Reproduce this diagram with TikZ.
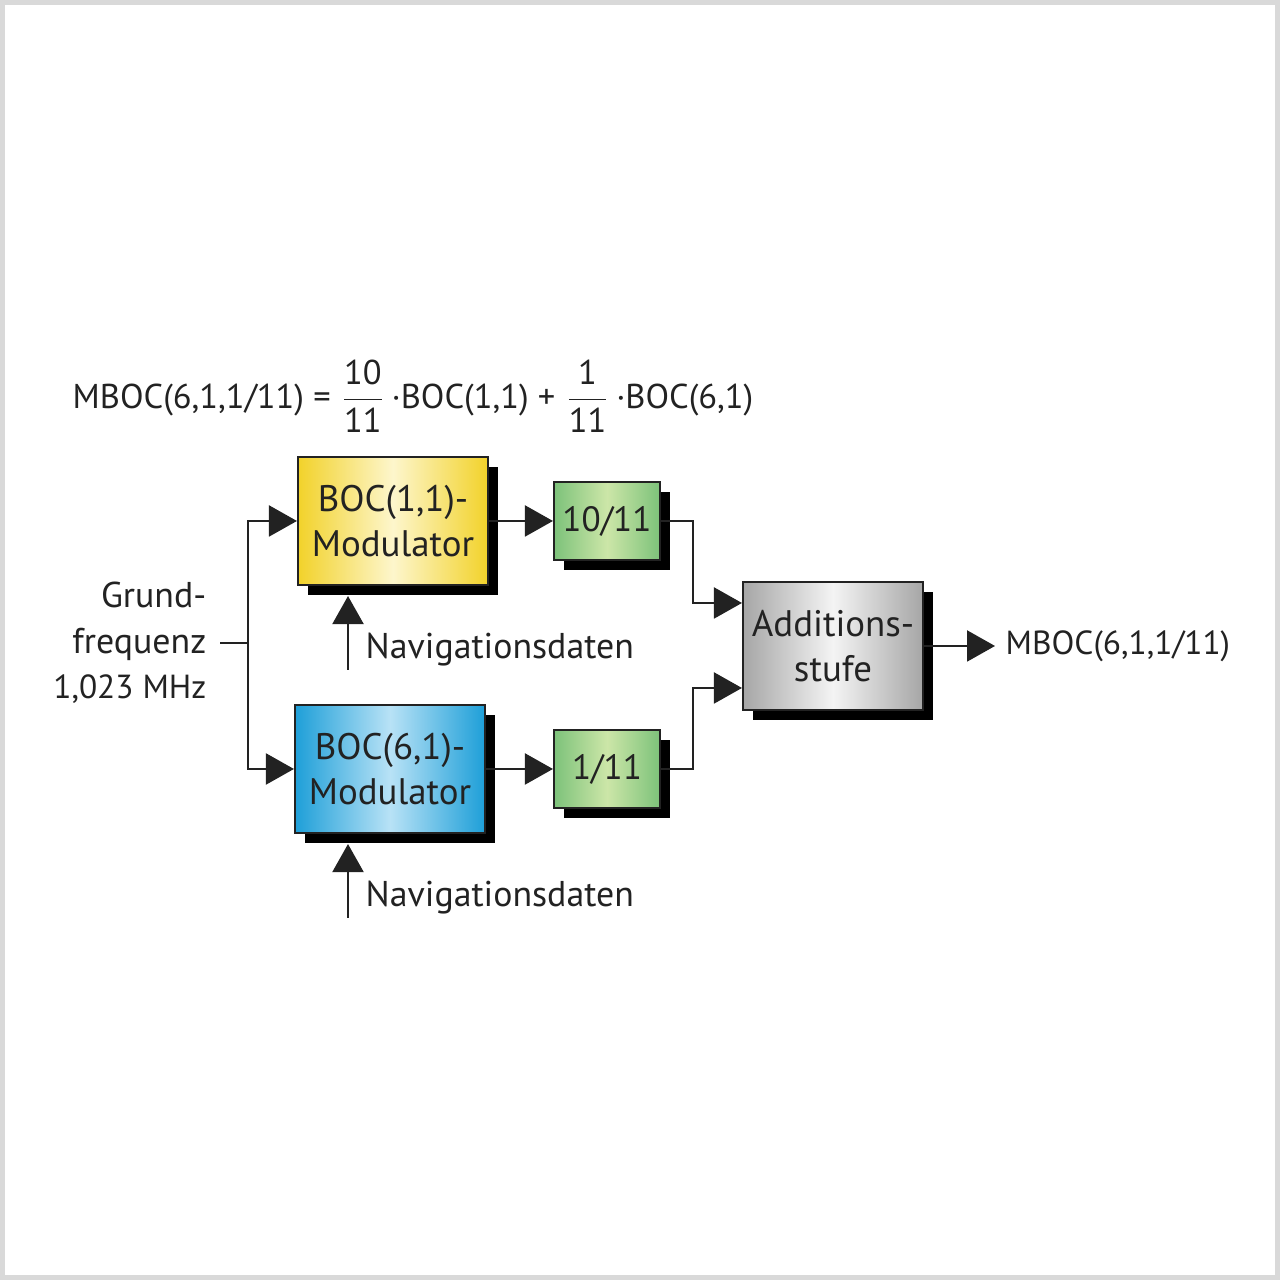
\documentclass[tikz,border=0pt]{standalone}
\usepackage{amsmath}
\usepackage{fontspec}
\setmainfont{PT Sans}
\usetikzlibrary{positioning,shadows,arrows.meta,calc}
\definecolor{inkgray}{HTML}{222222}
\definecolor{yellowedge}{HTML}{F2D22A}
\definecolor{yellowmid}{HTML}{FDF6CC}
\definecolor{blueedge}{HTML}{1E9FD8}
\definecolor{bluemid}{HTML}{B8E2F6}
\definecolor{greenedge}{HTML}{7DC27A}
\definecolor{greenmid}{HTML}{CCE6A8}
\definecolor{grayedge}{HTML}{A6A6A6}
\definecolor{graymid}{HTML}{F4F4F4}
\definecolor{framegray}{HTML}{D9D9D9}
\tikzset{
  blockbox/.style={draw=inkgray, line width=0.6pt, align=center, inner sep=0pt,
    font=\fontsize{10.5}{13}\selectfont, text=inkgray,
    drop shadow={shadow xshift=0.1cm, shadow yshift=-0.1cm, fill=black, opacity=1}},
  modbox/.style={blockbox, minimum width=1.9cm, minimum height=1.28cm},
  gainbox/.style={blockbox, minimum width=1.06cm, minimum height=0.78cm,
    font=\fontsize{10}{13}\selectfont,
    left color=greenedge, right color=greenedge, middle color=greenmid},
  sig/.style={draw=inkgray, line width=0.6pt, -{Triangle[length=2.8mm, width=3.1mm]}},
  wire/.style={draw=inkgray, line width=0.6pt},
  plain/.style={font=\fontsize{10.2}{13}\selectfont, text=inkgray, inner sep=0pt}
}
\begin{document}
\begin{tikzpicture}
  \useasboundingbox (0,0) rectangle (12.8,12.8);
  \draw[framegray, line width=0.05cm] (0.025,0.025) rectangle (12.775,12.775);
  % formula
  \node[plain, font=\fontsize{9.8}{13}\selectfont, anchor=west] (formula) at (0.72,8.84)
    {MBOC(6,1,1/11) = $\dfrac{\text{10}}{\text{11}}$\,·BOC(1,1) + $\dfrac{\text{1}}{\text{11}}$\,·BOC(6,1)};
  % blocks
  \node[modbox, left color=yellowedge, right color=yellowedge, middle color=yellowmid]
    (boc11) at (3.93,7.59) {BOC(1,1)-\\Modulator};
  \node[modbox, left color=blueedge, right color=blueedge, middle color=bluemid]
    (boc61) at (3.90,5.11) {BOC(6,1)-\\Modulator};
  \node[gainbox] (gainA) at (6.07,7.59) {10/11};
  \node[gainbox] (gainB) at (6.07,5.11) {1/11};
  \node[modbox, minimum width=1.8cm, left color=grayedge, right color=grayedge, middle color=graymid]
    (adder) at (8.33,6.34) {Additions-\\stufe};
  % labels
  \node[plain, align=right, anchor=east] (grund) at (2.07,6.37)
    {Grund-\\frequenz\\{\fontsize{9.5}{13}\selectfont 1,023 MHz}};
  \node[plain, anchor=west] (navA) at (3.65,6.30) {Navigationsdaten};
  \node[plain, anchor=west] (navB) at (3.65,3.82) {Navigationsdaten};
  \node[plain, font=\fontsize{9.5}{13}\selectfont, anchor=west] (mboc) at (10.05,6.34) {MBOC(6,1,1/11)};
  \coordinate (split) at (2.48,6.37);
  \coordinate (navfootA) at (3.48,6.10);
  \coordinate (navfootB) at (3.48,3.62);
  \coordinate (inA) at ($(adder.west)+(0,0.43)$);
  \coordinate (inB) at ($(adder.west)+(0,-0.42)$);
  % connectors
  \draw[wire] ([xshift=0.13cm]grund.east) -- (split);
  \draw[sig] (split) |- (boc11.west);
  \draw[sig] (split) |- (boc61.west);
  \draw[sig] (boc11.east) -- (gainA.west);
  \draw[sig] (boc61.east) -- (gainB.west);
  \draw[sig] (gainA.east) -| ([xshift=-0.49cm]inA) -- (inA);
  \draw[sig] (gainB.east) -| ([xshift=-0.49cm]inB) -- (inB);
  \draw[sig] (adder.east) -- ([xshift=-0.1cm]mboc.west);
  \draw[sig] (navfootA) -- ($(navfootA |- boc11.south)+(0,-0.1)$);
  \draw[sig] (navfootB) -- ($(navfootB |- boc61.south)+(0,-0.1)$);
\end{tikzpicture}
\end{document}
